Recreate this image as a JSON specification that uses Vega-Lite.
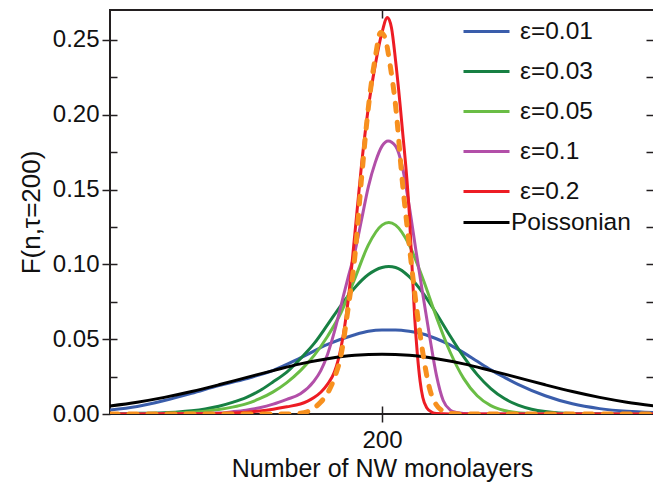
{
  "$schema": "https://vega.github.io/schema/vega-lite/v6.json",
  "width": 544,
  "height": 404,
  "autosize": {"type": "none"},
  "padding": {"left": 110, "top": 10, "right": 0, "bottom": 68},
  "background": "white",
  "config": {
    "font": "Liberation Sans",
    "view": {"stroke": "#231f20", "strokeWidth": 2},
    "axis": {"domain": false, "grid": false, "tickColor": "#231f20", "tickWidth": 1.5, "labelColor": "#111", "titleColor": "#111", "labelFont": "Liberation Sans", "titleFont": "Liberation Sans", "labelFontSize": 24, "titleFontSize": 25, "titleFontWeight": "normal"},
    "legend": {"labelFont": "Liberation Sans", "labelFontSize": 24.5, "labelColor": "#111", "padding": 0}
  },
  "data": {"values": [
    {"s":"ε=0.01","n":180,"F":0.0027},{"s":"ε=0.01","n":182,"F":0.005},{"s":"ε=0.01","n":184,"F":0.009},{"s":"ε=0.01","n":186,"F":0.0138},{"s":"ε=0.01","n":188,"F":0.019},{"s":"ε=0.01","n":190,"F":0.0235},{"s":"ε=0.01","n":192,"F":0.0292},{"s":"ε=0.01","n":194,"F":0.0375},{"s":"ε=0.01","n":196,"F":0.0465},{"s":"ε=0.01","n":198,"F":0.053},{"s":"ε=0.01","n":199,"F":0.0553},{"s":"ε=0.01","n":200,"F":0.0562},{"s":"ε=0.01","n":201,"F":0.0562},{"s":"ε=0.01","n":202,"F":0.0553},{"s":"ε=0.01","n":203,"F":0.0535},{"s":"ε=0.01","n":204,"F":0.0503},{"s":"ε=0.01","n":205,"F":0.0462},{"s":"ε=0.01","n":206,"F":0.041},{"s":"ε=0.01","n":207,"F":0.0352},{"s":"ε=0.01","n":208,"F":0.0295},{"s":"ε=0.01","n":209,"F":0.0245},{"s":"ε=0.01","n":210,"F":0.0198},{"s":"ε=0.01","n":212,"F":0.0122},{"s":"ε=0.01","n":214,"F":0.0068},{"s":"ε=0.01","n":216,"F":0.0036},{"s":"ε=0.01","n":218,"F":0.0018},{"s":"ε=0.01","n":220,"F":0.001},
    {"s":"ε=0.03","n":180,"F":0.0002},{"s":"ε=0.03","n":182,"F":0.0004},{"s":"ε=0.03","n":184,"F":0.0009},{"s":"ε=0.03","n":185,"F":0.0014},{"s":"ε=0.03","n":186,"F":0.0022},{"s":"ε=0.03","n":187,"F":0.0034},{"s":"ε=0.03","n":188,"F":0.0052},{"s":"ε=0.03","n":189,"F":0.0078},{"s":"ε=0.03","n":190,"F":0.011},{"s":"ε=0.03","n":191,"F":0.0155},{"s":"ε=0.03","n":192,"F":0.0215},{"s":"ε=0.03","n":193,"F":0.028},{"s":"ε=0.03","n":194,"F":0.037},{"s":"ε=0.03","n":195,"F":0.047},{"s":"ε=0.03","n":196,"F":0.0597},{"s":"ε=0.03","n":197,"F":0.0728},{"s":"ε=0.03","n":198,"F":0.0844},{"s":"ε=0.03","n":199,"F":0.0932},{"s":"ε=0.03","n":200,"F":0.0979},{"s":"ε=0.03","n":200.5,"F":0.0985},{"s":"ε=0.03","n":201,"F":0.0979},{"s":"ε=0.03","n":202,"F":0.0918},{"s":"ε=0.03","n":203,"F":0.081},{"s":"ε=0.03","n":204,"F":0.0672},{"s":"ε=0.03","n":205,"F":0.0523},{"s":"ε=0.03","n":206,"F":0.0383},{"s":"ε=0.03","n":207,"F":0.0263},{"s":"ε=0.03","n":208,"F":0.017},{"s":"ε=0.03","n":209,"F":0.0103},{"s":"ε=0.03","n":210,"F":0.0059},{"s":"ε=0.03","n":211,"F":0.0032},{"s":"ε=0.03","n":212,"F":0.0016},{"s":"ε=0.03","n":213,"F":0.0007},{"s":"ε=0.03","n":214,"F":0.0003},{"s":"ε=0.03","n":216,"F":0.0001},{"s":"ε=0.03","n":218,"F":0},{"s":"ε=0.03","n":220,"F":0},
    {"s":"ε=0.05","n":180,"F":0},{"s":"ε=0.05","n":182,"F":0.0001},{"s":"ε=0.05","n":184,"F":0.0004},{"s":"ε=0.05","n":185,"F":0.0007},{"s":"ε=0.05","n":186,"F":0.0012},{"s":"ε=0.05","n":187,"F":0.0019},{"s":"ε=0.05","n":188,"F":0.003},{"s":"ε=0.05","n":189,"F":0.0046},{"s":"ε=0.05","n":190,"F":0.0068},{"s":"ε=0.05","n":191,"F":0.0102},{"s":"ε=0.05","n":192,"F":0.0148},{"s":"ε=0.05","n":193,"F":0.021},{"s":"ε=0.05","n":194,"F":0.029},{"s":"ε=0.05","n":195,"F":0.039},{"s":"ε=0.05","n":196,"F":0.052},{"s":"ε=0.05","n":197,"F":0.068},{"s":"ε=0.05","n":198,"F":0.0905},{"s":"ε=0.05","n":199,"F":0.113},{"s":"ε=0.05","n":200,"F":0.1262},{"s":"ε=0.05","n":200.5,"F":0.128},{"s":"ε=0.05","n":201,"F":0.1262},{"s":"ε=0.05","n":202,"F":0.113},{"s":"ε=0.05","n":203,"F":0.0905},{"s":"ε=0.05","n":204,"F":0.0648},{"s":"ε=0.05","n":205,"F":0.0416},{"s":"ε=0.05","n":206,"F":0.0238},{"s":"ε=0.05","n":207,"F":0.0122},{"s":"ε=0.05","n":208,"F":0.0056},{"s":"ε=0.05","n":209,"F":0.0023},{"s":"ε=0.05","n":210,"F":0.0008},{"s":"ε=0.05","n":211,"F":0.0003},{"s":"ε=0.05","n":212,"F":0.0001},{"s":"ε=0.05","n":214,"F":0},{"s":"ε=0.05","n":220,"F":0},
    {"s":"ε=0.1","n":180,"F":0},{"s":"ε=0.1","n":184,"F":0.0001},{"s":"ε=0.1","n":186,"F":0.0002},{"s":"ε=0.1","n":188,"F":0.0006},{"s":"ε=0.1","n":189,"F":0.0015},{"s":"ε=0.1","n":190,"F":0.0026},{"s":"ε=0.1","n":191,"F":0.0042},{"s":"ε=0.1","n":192,"F":0.0066},{"s":"ε=0.1","n":193,"F":0.0098},{"s":"ε=0.1","n":194,"F":0.0135},{"s":"ε=0.1","n":195,"F":0.022},{"s":"ε=0.1","n":195.5,"F":0.029},{"s":"ε=0.1","n":196,"F":0.04},{"s":"ε=0.1","n":196.5,"F":0.055},{"s":"ε=0.1","n":197,"F":0.073},{"s":"ε=0.1","n":197.5,"F":0.091},{"s":"ε=0.1","n":198,"F":0.108},{"s":"ε=0.1","n":198.5,"F":0.13},{"s":"ε=0.1","n":199,"F":0.152},{"s":"ε=0.1","n":199.5,"F":0.168},{"s":"ε=0.1","n":200,"F":0.179},{"s":"ε=0.1","n":200.45,"F":0.1825},{"s":"ε=0.1","n":201,"F":0.179},{"s":"ε=0.1","n":201.5,"F":0.165},{"s":"ε=0.1","n":202,"F":0.139},{"s":"ε=0.1","n":202.5,"F":0.109},{"s":"ε=0.1","n":203,"F":0.08},{"s":"ε=0.1","n":203.5,"F":0.052},{"s":"ε=0.1","n":204,"F":0.026},{"s":"ε=0.1","n":204.5,"F":0.009},{"s":"ε=0.1","n":205,"F":0.0028},{"s":"ε=0.1","n":205.5,"F":0.001},{"s":"ε=0.1","n":206,"F":0.0003},{"s":"ε=0.1","n":207,"F":0},{"s":"ε=0.1","n":220,"F":0},
    {"s":"ε=0.2","n":180,"F":0},{"s":"ε=0.2","n":184,"F":0.0001},{"s":"ε=0.2","n":186,"F":0.0002},{"s":"ε=0.2","n":188,"F":0.0004},{"s":"ε=0.2","n":189,"F":0.0007},{"s":"ε=0.2","n":190,"F":0.0012},{"s":"ε=0.2","n":191,"F":0.002},{"s":"ε=0.2","n":192,"F":0.0032},{"s":"ε=0.2","n":193,"F":0.0048},{"s":"ε=0.2","n":194,"F":0.0067},{"s":"ε=0.2","n":194.5,"F":0.0085},{"s":"ε=0.2","n":195,"F":0.011},{"s":"ε=0.2","n":195.5,"F":0.0145},{"s":"ε=0.2","n":196,"F":0.02},{"s":"ε=0.2","n":196.5,"F":0.028},{"s":"ε=0.2","n":197,"F":0.045},{"s":"ε=0.2","n":197.5,"F":0.075},{"s":"ε=0.2","n":198,"F":0.12},{"s":"ε=0.2","n":198.5,"F":0.167},{"s":"ε=0.2","n":199,"F":0.205},{"s":"ε=0.2","n":199.5,"F":0.233},{"s":"ε=0.2","n":200,"F":0.255},{"s":"ε=0.2","n":200.4,"F":0.265},{"s":"ε=0.2","n":200.7,"F":0.258},{"s":"ε=0.2","n":201,"F":0.236},{"s":"ε=0.2","n":201.5,"F":0.19},{"s":"ε=0.2","n":202,"F":0.135},{"s":"ε=0.2","n":202.2,"F":0.1},{"s":"ε=0.2","n":202.4,"F":0.065},{"s":"ε=0.2","n":202.6,"F":0.04},{"s":"ε=0.2","n":202.8,"F":0.022},{"s":"ε=0.2","n":203,"F":0.011},{"s":"ε=0.2","n":203.3,"F":0.004},{"s":"ε=0.2","n":203.7,"F":0.001},{"s":"ε=0.2","n":204,"F":0.0003},{"s":"ε=0.2","n":205,"F":0},{"s":"ε=0.2","n":220,"F":0},
    {"s":"Poissonian","n":180,"F":0.0054},{"s":"Poissonian","n":182,"F":0.0079},{"s":"Poissonian","n":184,"F":0.0111},{"s":"Poissonian","n":186,"F":0.015},{"s":"Poissonian","n":188,"F":0.0195},{"s":"Poissonian","n":190,"F":0.0243},{"s":"Poissonian","n":192,"F":0.029},{"s":"Poissonian","n":194,"F":0.0335},{"s":"Poissonian","n":196,"F":0.0369},{"s":"Poissonian","n":198,"F":0.0392},{"s":"Poissonian","n":200,"F":0.04},{"s":"Poissonian","n":202,"F":0.0392},{"s":"Poissonian","n":204,"F":0.0369},{"s":"Poissonian","n":206,"F":0.0335},{"s":"Poissonian","n":208,"F":0.029},{"s":"Poissonian","n":210,"F":0.0243},{"s":"Poissonian","n":212,"F":0.0195},{"s":"Poissonian","n":214,"F":0.015},{"s":"Poissonian","n":216,"F":0.0111},{"s":"Poissonian","n":218,"F":0.0079},{"s":"Poissonian","n":220,"F":0.0054},
    {"s":"fit","n":180,"F":0},{"s":"fit","n":193,"F":0},{"s":"fit","n":194,"F":0.0005},{"s":"fit","n":194.5,"F":0.0015},{"s":"fit","n":195,"F":0.004},{"s":"fit","n":195.5,"F":0.008},{"s":"fit","n":196,"F":0.014},{"s":"fit","n":196.5,"F":0.024},{"s":"fit","n":197,"F":0.04},{"s":"fit","n":197.5,"F":0.07},{"s":"fit","n":198,"F":0.105},{"s":"fit","n":198.5,"F":0.158},{"s":"fit","n":199,"F":0.205},{"s":"fit","n":199.5,"F":0.238},{"s":"fit","n":199.9,"F":0.255},{"s":"fit","n":200.2,"F":0.252},{"s":"fit","n":200.6,"F":0.233},{"s":"fit","n":201,"F":0.206},{"s":"fit","n":201.5,"F":0.155},{"s":"fit","n":202,"F":0.113},{"s":"fit","n":202.5,"F":0.074},{"s":"fit","n":203,"F":0.041},{"s":"fit","n":203.5,"F":0.017},{"s":"fit","n":204,"F":0.006},{"s":"fit","n":204.5,"F":0.002},{"s":"fit","n":205,"F":0.0005},{"s":"fit","n":206,"F":0},{"s":"fit","n":220,"F":0}
  ]},
  "resolve": {"axis": {"x": "independent", "y": "independent"}},
  "layer": [
    {
      "mark": {"type": "point", "opacity": 0},
      "encoding": {
        "x": {"field": "n", "type": "quantitative", "scale": {"domain": [180, 220], "nice": false, "zero": false},
              "axis": {"orient": "bottom", "values": [200], "tickSize": 8, "labelPadding": 6, "title": "Number of NW monolayers", "titlePadding": 4}},
        "y": {"field": "F", "type": "quantitative", "scale": {"domain": [0, 0.27], "nice": false},
              "axis": {"orient": "left", "values": [0, 0.05, 0.1, 0.15, 0.2, 0.25], "format": ".2f", "tickSize": 8, "labelPadding": 3, "title": "F(n,τ=200)", "titleFontSize": 26, "titlePadding": 8}}
      }
    },
    {
      "mark": {"type": "point", "opacity": 0},
      "encoding": {
        "x": {"field": "n", "type": "quantitative", "axis": {"orient": "top", "values": [200], "tickSize": -8, "labels": false, "title": null}},
        "y": {"field": "F", "type": "quantitative", "axis": {"orient": "right", "values": [0.025, 0.05, 0.075, 0.1, 0.125, 0.15, 0.175, 0.2, 0.225, 0.25], "tickSize": -8, "labels": false, "title": null}}
      }
    },
    {
      "mark": {"type": "point", "opacity": 0},
      "encoding": {
        "x": {"field": "n", "type": "quantitative", "axis": {"orient": "bottom", "values": [200], "tickSize": -8, "labels": false, "title": null}},
        "y": {"field": "F", "type": "quantitative", "axis": {"orient": "left", "values": [0.025, 0.05, 0.075, 0.1, 0.125, 0.15, 0.175, 0.2, 0.225, 0.25], "tickSize": -7, "labels": false, "title": null}}
      }
    },
    {
      "transform": [{"filter": "indexof(['ε=0.01','ε=0.03','ε=0.05','ε=0.1','ε=0.2'], datum.s) >= 0"}],
      "mark": {"type": "line", "interpolate": "monotone", "strokeWidth": 3, "clip": true},
      "encoding": {
        "x": {"field": "n", "type": "quantitative", "axis": null},
        "y": {"field": "F", "type": "quantitative", "axis": null},
        "color": {"field": "s", "type": "nominal",
          "scale": {"domain": ["ε=0.01", "ε=0.03", "ε=0.05", "ε=0.1", "ε=0.2"], "range": ["#3a5dab", "#178043", "#6abd45", "#b24fa8", "#ed1c24"]},
          "legend": {"orient": "none", "legendX": 352, "legendY": -3, "title": null, "symbolType": "stroke", "symbolSize": 2116, "symbolStrokeWidth": 3, "rowPadding": 4, "labelOffset": 9}}
      }
    },
    {
      "transform": [{"filter": "datum.s == 'Poissonian'"}],
      "mark": {"type": "line", "interpolate": "monotone", "strokeWidth": 3, "clip": true},
      "encoding": {
        "x": {"field": "n", "type": "quantitative", "axis": null},
        "y": {"field": "F", "type": "quantitative", "axis": null},
        "stroke": {"field": "s", "type": "nominal", "scale": {"domain": ["Poissonian"], "range": ["#000000"]},
          "legend": {"orient": "none", "legendX": 352, "legendY": 188, "title": null, "symbolType": "stroke", "symbolSize": 2116, "symbolStrokeWidth": 3, "labelOffset": 0}}
      }
    },
    {
      "transform": [{"filter": "datum.s == 'fit'"}],
      "mark": {"type": "line", "interpolate": "monotone", "strokeWidth": 5, "color": "#f7901e", "strokeDash": [8, 11], "strokeCap": "round", "clip": true},
      "encoding": {
        "x": {"field": "n", "type": "quantitative", "axis": null},
        "y": {"field": "F", "type": "quantitative", "axis": null}
      }
    }
  ]
}
